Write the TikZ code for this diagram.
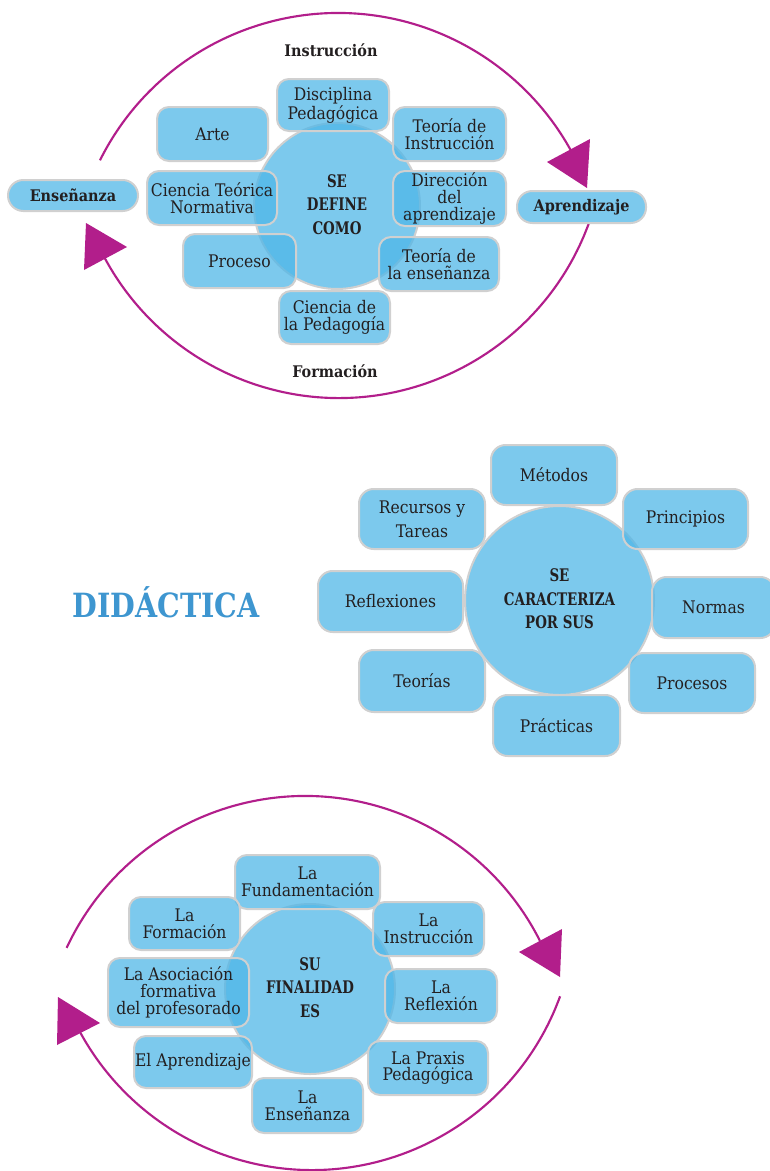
\documentclass[tikz,border=0pt]{standalone}
\usepackage{fontspec}
\setmainfont{DejaVu Serif Condensed}
\usepackage{tikz}
\usetikzlibrary{shapes.geometric, positioning}
\definecolor{ideablue}{RGB}{78, 182, 231}
\definecolor{edgegrey}{RGB}{208, 208, 208}
\definecolor{loopmagenta}{RGB}{178, 30, 139}
\definecolor{titleblue}{RGB}{62, 150, 208}
\definecolor{inkgrey}{RGB}{35, 31, 32}
\newcommand{\squeeze}[1]{\scalebox{0.86}[1]{#1}}

\begin{document}
\begin{tikzpicture}[
    x=0.75pt, y=0.75pt,
    idea/.style={rectangle, draw=edgegrey, line width=1.5pt, fill=ideablue,
                 fill opacity=0.74, text opacity=1, text=inkgrey,
                 rounded corners=9pt, align=center, inner sep=0pt,
                 font=\fontsize{13}{12.5}\selectfont},
    bigidea/.style={idea, rounded corners=11pt, font=\fontsize{13}{18}\selectfont},
    pole/.style={idea, rounded corners=11.5pt, font=\fontsize{12}{14}\selectfont\bfseries},
    hub/.style={circle, draw=edgegrey, line width=1.5pt, fill=ideablue,
                fill opacity=0.74, text opacity=1, text=inkgrey, inner sep=0pt,
                font=\fontsize{13}{17.6}\selectfont\bfseries},
    phase/.style={text=inkgrey, font=\fontsize{12}{14}\selectfont\bfseries},
    looparc/.style={draw=loopmagenta, line width=1.6pt},
    loophead/.style={fill=loopmagenta},
    dims/.style 2 args={minimum width=#1pt, minimum height=#2pt}
]
\useasboundingbox (0,0) rectangle (769,-1171);

\coordinate (overtop) at (338,-279);
\coordinate (undertop) at (339,-132);
\draw[looparc] (overtop) ++(153.5:199.5pt) arc[start angle=153.5, end angle=29, radius=199.5pt];
\draw[looparc] (undertop) ++(-20:199.5pt) arc[start angle=-20, end angle=-152, radius=199.5pt];
\fill[loophead] (587,-188) -- (547,-162) -- (590,-139) -- cycle;
\fill[loophead] (86,-223) -- (127,-247) -- (84,-270) -- cycle;

\node[pole, dims={97.5}{23.25}] (ensenanza) at (73,-195.5) {Enseñanza};
\node[pole, dims={96.75}{24}] (aprendizaje) at (581.5,-207) {Aprendizaje};
\node[phase] (instruccion) at (331,-50) {Instrucción};
\node[phase] (formacion) at (335,-371) {Formación};

\node[hub, minimum size=124.5pt] (definehub) at (337,-206)
    {\squeeze{\begin{tabular}{@{}c@{}}SE\\DEFINE\\COMO\end{tabular}}};
\node[idea, dims={83.25}{40.5}] (arte) at (212.5,-134) {Arte};
\node[idea, dims={84}{39}] (disciplina) at (333,-105) {Disciplina\\Pedagógica};
\node[idea, dims={84.75}{40.5}] (teoinstr) at (449.5,-134) {Teoría de\\Instrucción};
\node[idea, dims={97.5}{40.5}] (cienteor) at (212,-198) {Ciencia Teórica\\Normativa};
\node[idea, dims={84.75}{41.25}] (direccion) at (449.5,-198.5) {Dirección\\del\\aprendizaje};
\node[idea, dims={84.75}{40.5}] (proceso) at (239.5,-261) {Proceso};
\node[idea, dims={90}{40.5}] (teoens) at (439,-264) {Teoría de\\la enseñanza};
\node[idea, dims={83.25}{39.75}] (cienped) at (334.5,-317.5) {Ciencia de\\la Pedagogía};

\node[font=\fontsize{25}{30}\selectfont\bfseries, text=titleblue] (didactica) at (166,-602)
    {\scalebox{0.95}[1]{DIDÁCTICA}};

\node[hub, minimum size=141.75pt] (rasgohub) at (559.5,-600.5)
    {\squeeze{\begin{tabular}{@{}c@{}}SE\\CARACTERIZA\\POR SUS\end{tabular}}};
\node[bigidea, dims={94.5}{45}] (metodos) at (554,-475) {Métodos};
\node[bigidea, dims={94.5}{45}] (recursos) at (422,-519) {Recursos y\\Tareas};
\node[bigidea, dims={93.75}{45}] (principios) at (685.5,-519) {Principios};
\node[bigidea, dims={108.75}{45.75}] (reflexiones) at (390.5,-601.5) {Reflexiones};
\node[bigidea, dims={92.25}{45.75}] (normas) at (713.5,-607.5) {Normas};
\node[bigidea, dims={94.5}{46.5}] (teorias) at (422,-681) {Teorías};
\node[bigidea, dims={94.5}{45}] (procesos) at (692,-683) {Procesos};
\node[bigidea, dims={95.25}{45.75}] (practicas) at (556.5,-725.5) {Prácticas};

\coordinate (overbot) at (305,-1059);
\coordinate (underbot) at (312,-906);
\draw[looparc] (overbot) ++(155:197.25pt) arc[start angle=155, end angle=26.7, radius=197.25pt];
\draw[looparc] (underbot) ++(-20:198pt) arc[start angle=-20, end angle=-151.3, radius=198pt];
\fill[loophead] (560,-977) -- (519,-952) -- (562,-929) -- cycle;
\fill[loophead] (58,-997) -- (100,-1023) -- (57,-1045) -- cycle;

\node[hub, minimum size=127.5pt] (finhub) at (310,-989)
    {\squeeze{\begin{tabular}{@{}c@{}}SU\\FINALIDAD\\ES\end{tabular}}};
\node[idea, dims={108.75}{40.5}] (fundam) at (307.5,-882) {La\\Fundamentación};
\node[idea, dims={83.25}{39.75}] (formb) at (184.5,-923.5) {La\\Formación};
\node[idea, dims={83.25}{40.5}] (instrb) at (428.5,-929) {La\\Instrucción};
\node[idea, dims={105.75}{51.75}] (asociacion) at (178.5,-992.5) {La Asociación\\formativa\\del profesorado};
\node[idea, dims={84}{40.5}] (reflexb) at (441,-996) {La\\Reflexión};
\node[idea, dims={88.5}{39}] (aprendb) at (193,-1062) {El Aprendizaje};
\node[idea, dims={90}{40.5}] (praxis) at (428,-1068) {La Praxis\\Pedagógica};
\node[idea, dims={83.25}{41.25}] (ensenb) at (307.5,-1105.5) {La\\Enseñanza};

\end{tikzpicture}
\end{document}
